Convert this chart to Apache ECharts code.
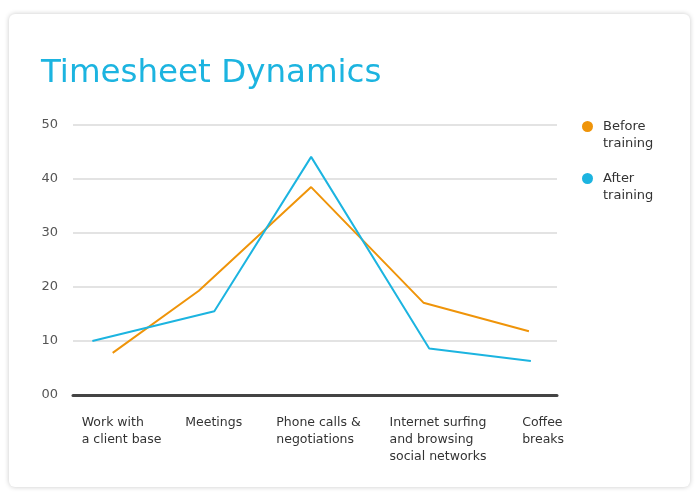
<!DOCTYPE html>
<html>
<head>
<meta charset="utf-8">
<script src="https://cdn.jsdelivr.net/npm/echarts@6/dist/echarts.min.js"></script>
<style>
html,body{margin:0;padding:0;background:#fff;}
#card{position:absolute;left:9px;top:14px;width:681px;height:473px;border-radius:6px;background:#fff;box-shadow:0 0 5px rgba(0,0,0,0.22);}
#main{position:absolute;left:0;top:0;width:700px;height:500px;}
</style>
</head>
<body>
<div id="card"></div>
<div id="main"></div>
<script>
var categories = ['Work with\na client base', 'Meetings', 'Phone calls &\nnegotiations', 'Internet surfing\nand browsing\nsocial networks', 'Coffee\nbreaks'];
var labelX = [0.09, 1.16, 2.10, 3.27, 4.64];
var beforeX = [0.41, 1.30, 2.46, 3.62, 4.71];
var beforeY = [7.8, 19.3, 38.5, 17.1, 11.8];
var afterX = [0.20, 1.46, 2.46, 3.68, 4.73];
var afterY = [10, 15.5, 44.1, 8.6, 6.3];
var yTicks = [0, 10, 20, 30, 40, 50];

function pairs(xs, ys){ return xs.map(function(x,i){ return [x, ys[i]]; }); }
var FONT = 'DejaVu Sans';
var chart = echarts.init(document.getElementById('main'), null, {renderer:'canvas'});
chart.setOption({
  backgroundColor: 'transparent',
  animation: false,
  title: {
    text: 'Timesheet Dynamics',
    left: 41, top: 57, padding: 0,
    textStyle: {color:'#1cb4e0', fontFamily: FONT, fontSize: 32.5, fontWeight: 'normal'}
  },
  legend: {
    orient: 'vertical',
    left: 582, top: 101, padding: 0,
    icon: 'circle', itemWidth: 11, itemHeight: 11, itemGap: 1,
    formatter: function(n){ return '\n' + n; },
    textStyle: {color:'#333', fontFamily: FONT, fontSize: 13, lineHeight: 17, padding: [0, 0, 0, 5]},
    data: ['Before\ntraining', 'After\ntraining']
  },
  grid: {left: 73, right: 143, top: 125, bottom: 105, containLabel: false},
  xAxis: {
    type: 'value', min: 0, max: 5,
    splitLine: {show: false},
    axisTick: {show: false},
    axisLine: {show: true, lineStyle: {color: '#444', width: 3}},
    axisLabel: {
      customValues: labelX,
      align: 'left', verticalAlign: 'top', margin: 19,
      color: '#333', fontFamily: FONT, fontSize: 12.5, lineHeight: 17,
      formatter: function(v){ var i = labelX.indexOf(v); return i >= 0 ? categories[i] : ''; }
    }
  },
  yAxis: {
    type: 'value', min: 0, max: 50, interval: 10,
    axisLine: {show: false}, axisTick: {show: false},
    splitLine: {lineStyle: {color: '#e3e3e3', width: 2}},
    axisLabel: {margin: 15, color: '#555', fontFamily: FONT, fontSize: 13,
      formatter: function(v){ return v === 0 ? '00' : String(v); }}
  },
  series: [
    {name: 'Before\ntraining', type: 'line', data: pairs(beforeX, beforeY), showSymbol: false, symbol: 'circle',
     itemStyle: {color: '#ef9409'}, lineStyle: {color: '#ef9409', width: 2}},
    {name: 'After\ntraining', type: 'line', data: pairs(afterX, afterY), showSymbol: false, symbol: 'circle',
     itemStyle: {color: '#1cb4e0'}, lineStyle: {color: '#1cb4e0', width: 2}}
  ]
});
</script>
</body>
</html>
